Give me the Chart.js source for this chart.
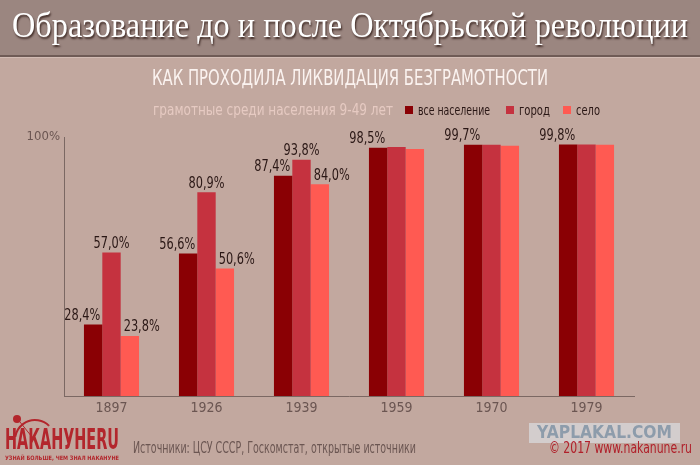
<!DOCTYPE html>
<html>
<head>
<meta charset="utf-8">
<script src="https://cdn.jsdelivr.net/npm/chart.js@4"></script>
<style>
  html, body { margin: 0; padding: 0; background: #c2a89f; }
  #wrap { position: relative; width: 700px; height: 465px; }
</style>
</head>
<body>
<div id="wrap"><canvas id="chart" width="700" height="465"></canvas></div>
<script>
// literacy among population aged 9-49, %
const years = ['1897', '1926', '1939', '1959', '1970', '1979'];
const allPop = [28.4, 56.6, 87.4, 98.5, 99.7, 99.8];
const city = [57.0, 80.9, 93.8, 98.8, 99.7, 99.8];
const village = [23.8, 50.6, 84.0, 98.0, 99.3, 99.7];
const seriesNames = ['все население', 'город', 'село'];
const yTickLabels = ['100%'];
// how many groups (from the left) carry a value label, per series
const labelCounts = [6, 3, 3];

const colors = ['#8a0004', '#c5323f', '#ff5a52'];
const narrow = '"Liberation Sans Narrow", "DejaVu Sans Condensed", sans-serif';

function fmt(v) {
    return v.toFixed(1).replace('.', ',') + '%';
}

// draw text squeezed/stretched to a given width
function fitText(ctx, text, x, y, width, font, color) {
    ctx.save();
    ctx.font = font;
    ctx.fillStyle = color;
    ctx.textBaseline = 'middle';
    ctx.textAlign = 'left';
    const w = ctx.measureText(text).width;
    ctx.translate(x, y);
    ctx.scale(width / w, 1);
    ctx.fillText(text, 0, 0);
    ctx.restore();
}

const decorPlugin = {
    id: 'decor',
    beforeDraw(chart) {
        const ctx = chart.ctx;
        ctx.save();
        // header band
        ctx.fillStyle = '#9b8680';
        ctx.fillRect(0, 0, 700, 56);
        ctx.fillStyle = '#6f5b56';
        ctx.fillRect(0, 55, 700, 2);
        ctx.fillStyle = '#d2bcb4';
        ctx.fillRect(0, 57, 700, 1);
        ctx.restore();

        // main title with shadow
        ctx.save();
        ctx.shadowColor = 'rgba(40,20,15,0.8)';
        ctx.shadowOffsetX = 1;
        ctx.shadowOffsetY = 2;
        ctx.shadowBlur = 2;
        fitText(ctx, 'Образование до и после Октябрьской революции', 12, 28, 676,
            '35px "Liberation Serif", "DejaVu Serif", serif', '#ffffff');
        ctx.restore();

        fitText(ctx, 'КАК ПРОХОДИЛА ЛИКВИДАЦИЯ БЕЗГРАМОТНОСТИ', 152, 79, 396,
            '22px ' + narrow, '#fbf3f0');
        fitText(ctx, 'грамотные среди населения 9-49 лет', 153, 111, 240,
            '15px ' + narrow, '#e6cac2');

        // legend
        const legendX = [405, 506, 563];
        const legendW = [72, 31, 24];
        seriesNames.forEach((name, i) => {
            ctx.fillStyle = colors[i];
            ctx.fillRect(legendX[i], 106, 8, 8);
            fitText(ctx, name, legendX[i] + 13, 111, legendW[i], '14px ' + narrow, '#2a1715');
        });

        // footer
        fitText(ctx, 'Источники: ЦСУ СССР, Госкомстат, открытые источники', 133, 449, 283,
            '15px ' + narrow, '#6b5652');

        // logo
        ctx.save();
        ctx.strokeStyle = '#b3262c';
        ctx.lineWidth = 2;
        ctx.beginPath();
        ctx.arc(35, 440, 20, Math.PI * 1.05, Math.PI * 1.75);
        ctx.stroke();
        ctx.lineWidth = 1;
        ctx.strokeStyle = '#c9a39b';
        ctx.beginPath();
        ctx.arc(35, 440, 20, Math.PI * 1.75, Math.PI * 2.0);
        ctx.stroke();
        ctx.fillStyle = '#b3262c';
        ctx.beginPath();
        ctx.arc(17, 419, 4, 0, Math.PI * 2);
        ctx.fill();
        ctx.strokeStyle = '#b3262c';
        ctx.lineWidth = 1;
        ctx.beginPath();
        ctx.moveTo(20, 422);
        ctx.lineTo(32, 437);
        ctx.stroke();
        ctx.restore();
        fitText(ctx, 'НАКАНУНЕRU', 5, 442, 114, 'bold 28px ' + narrow, '#b3262c');
        fitText(ctx, 'УЗНАЙ БОЛЬШЕ, ЧЕМ ЗНАЛ НАКАНУНЕ', 5, 458, 114, 'bold 6px ' + narrow, '#b3262c');

        // watermark
        ctx.fillStyle = 'rgba(213,208,210,0.9)';
        ctx.fillRect(529, 423, 151, 20);
        fitText(ctx, 'YAPLAKAL.COM', 537, 433, 135, 'bold 18px "DejaVu Sans", sans-serif', '#8d9cab');
        fitText(ctx, '© 2017 www.nakanune.ru', 549, 449, 143, '16px ' + narrow, '#b0202a');
    },
    afterDatasetsDraw(chart) {
        const ctx = chart.ctx;
        const squeeze = 0.84;
        chart.data.datasets.forEach((ds, di) => {
            const meta = chart.getDatasetMeta(di);
            meta.data.forEach((bar, i) => {
                if (i >= labelCounts[di]) return;
                const half = bar.width / 2;
                let x = bar.x;
                let align = 'center';
                if (di === 0) { align = 'right'; x = bar.x + half - 2; }
                else if (di === 2) { align = 'left'; x = bar.x - half + 3; }
                ctx.save();
                ctx.font = '15px ' + narrow;
                ctx.fillStyle = '#2a1715';
                ctx.textBaseline = 'bottom';
                ctx.textAlign = align;
                ctx.translate(x, bar.y - 1);
                ctx.scale(squeeze, 1);
                ctx.fillText(fmt(ds.data[i]), 0, 0);
                ctx.restore();
            });
        });
    }
};

new Chart(document.getElementById('chart'), {
    type: 'bar',
    data: {
        labels: years,
        datasets: [allPop, city, village].map((d, i) => ({
            label: seriesNames[i],
            data: d,
            backgroundColor: colors[i],
            borderWidth: 0,
            categoryPercentage: 0.58,
            barPercentage: 1.0
        }))
    },
    options: {
        responsive: false,
        animation: false,
        layout: { padding: { top: 137, right: 66, left: 0, bottom: 0 } },
        plugins: {
            legend: { display: false },
            tooltip: { enabled: false }
        },
        scales: {
            x: {
                grid: { display: false, drawTicks: false },
                border: { display: true, color: '#7b6863', width: 1 },
                ticks: {
                    color: '#6b5652',
                    font: { family: narrow, size: 14 },
                    padding: 4
                },
                afterFit(s) { s.height = 69; }
            },
            y: {
                min: 0,
                max: 102.8,
                grid: { display: false, drawTicks: false },
                border: { display: true, color: '#7b6863', width: 1 },
                afterBuildTicks(s) { s.ticks = [{ value: s.max }]; },
                ticks: {
                    color: '#6b5652',
                    font: { family: narrow, size: 13 },
                    padding: 4,
                    callback: () => yTickLabels[0]
                },
                afterFit(s) { s.width = 64; }
            }
        }
    },
    plugins: [decorPlugin]
});
</script>
</body>
</html>
